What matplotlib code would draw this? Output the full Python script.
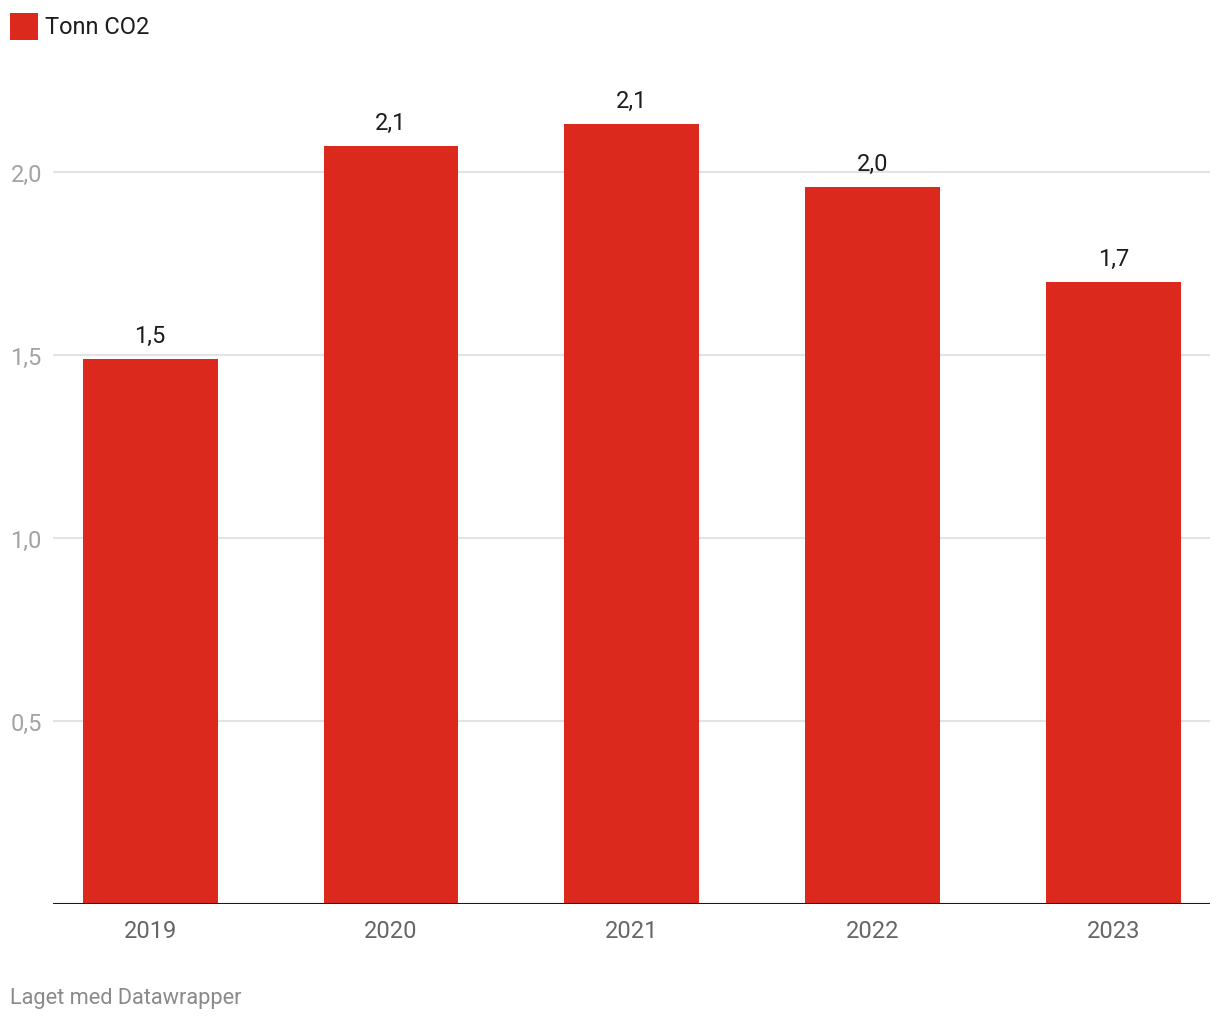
"""Bar chart: Tonn CO2 per year"""

import matplotlib.pyplot as plt
from matplotlib.patches import Rectangle

plt.rcParams["font.family"] = ["Roboto", "DejaVu Sans"]

# Data
years = ["2019", "2020", "2021", "2022", "2023"]
tonn_co2 = [1.49, 2.07, 2.13, 1.96, 1.70]
y_ticks = [0.5, 1.0, 1.5, 2.0]

red = "#db291d"


def fmt(v):
    return f"{v:.1f}".replace(".", ",")


W, H = 1220, 1020
fig = plt.figure(figsize=(W / 100, H / 100), dpi=100)
ax = fig.add_axes([53 / W, 115 / H, (1210 - 53) / W, (905 - 99.8) / H])

x = range(len(years))
bars = ax.bar(x, tonn_co2, width=0.56, color=red, zorder=2)

ax.set_xlim(-0.403, 4.40)
ax.set_ylim(0, 2.2)

# Grid
for t in y_ticks:
    ax.axhline(t, color="#e3e3e3", linewidth=1.5, zorder=1)
ax.axhline(0, color="#1a1a1a", linewidth=1.5, zorder=3)

ax.set_yticks(y_ticks)
ax.set_yticklabels([fmt(t) for t in y_ticks], color="#a3a3a3", fontsize=17)
ax.set_xticks(list(x))
ax.set_xticklabels(years, color="#666666", fontsize=17)
ax.tick_params(axis="y", length=0, pad=8)
ax.tick_params(axis="x", length=0, pad=11)
for s in ax.spines.values():
    s.set_visible(False)

# Value labels
for bar, v in zip(bars, tonn_co2):
    ax.annotate(
        fmt(v),
        (bar.get_x() + bar.get_width() / 2, bar.get_height()),
        xytext=(0, 17),
        textcoords="offset points",
        ha="center",
        va="center",
        fontsize=17,
        color="#1d1d1d",
    )

# Legend
fig.patches.append(
    Rectangle((10 / W, 1 - 41 / H), 28 / W, 27 / H, transform=fig.transFigure,
              facecolor=red, edgecolor="none")
)
fig.text(45 / W, 1 - 28 / H, "Tonn CO2", fontsize=17, color="#1d1d1d",
         ha="left", va="center")

# Footer
fig.text(10 / W, 1 - 999 / H, "Laget med Datawrapper", fontsize=15.7,
         color="#8a8a8a", ha="left", va="center")

fig.savefig("out.png", dpi=100)
